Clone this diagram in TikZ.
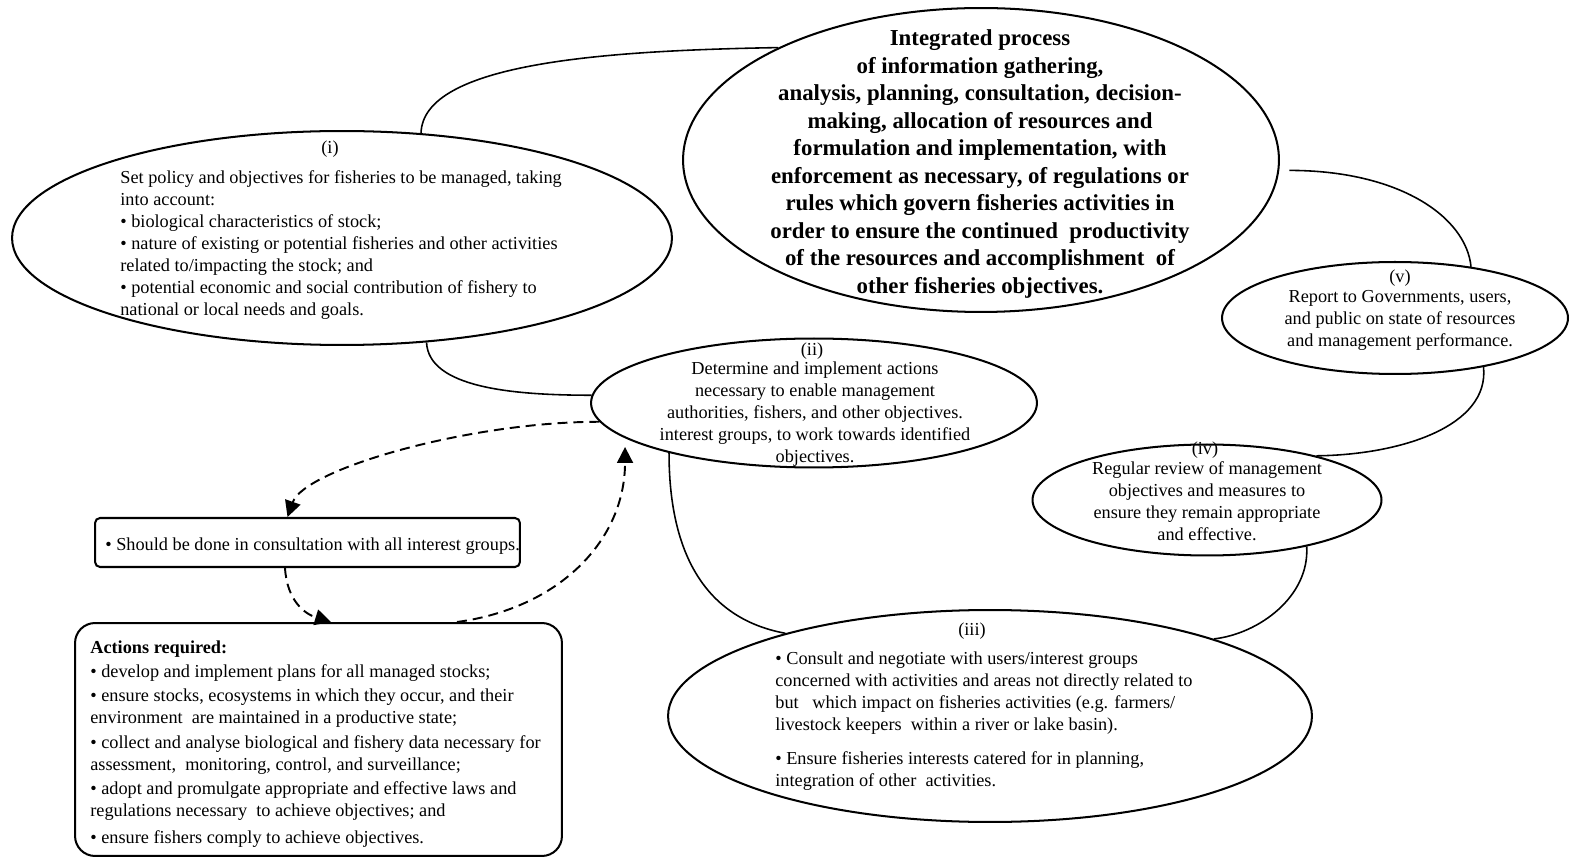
\documentclass[tikz,border=0pt]{standalone}
\usepackage{fontspec}
\setmainfont{Liberation Serif}
\usetikzlibrary{shapes.geometric,arrows.meta}
\newcommand\txtfnt{\fontsize{10.4pt}{12.5pt}\selectfont}
\newcommand\bigfnt{\fontsize{13pt}{15.65pt}\selectfont\bfseries}
\begin{document}
\begin{tikzpicture}[x=0.02cm,y=-0.02cm,
  ell/.style={draw, ellipse, line width=1.15pt, inner sep=0pt},
  box/.style={draw, rectangle, line width=1.15pt, inner sep=0pt},
  link/.style={line width=0.9pt},
  dlink/.style={line width=1.1pt, dash pattern=on 0.2cm off 0.12cm, -{Triangle[length=0.32cm,width=0.32cm]}},
  txt/.style={inner sep=0pt, font=\txtfnt}]
\useasboundingbox (0,0) rectangle (1574,857);

% shapes
\node[ell, minimum width=11.92cm, minimum height=6.08cm] (big) at (981,160) {};
\node[ell, minimum width=13.2cm, minimum height=4.28cm] (e1) at (342,238) {};
\node[ell, minimum width=8.92cm, minimum height=2.58cm] (e2) at (814,403) {};
\node[ell, minimum width=12.88cm, minimum height=4.24cm] (e3) at (990,716) {};
\node[ell, minimum width=6.98cm, minimum height=2.22cm] (e4) at (1207,500) {};
\node[ell, minimum width=6.92cm, minimum height=2.24cm] (e5) at (1395,318) {};
\node[box, rounded corners=0.1cm, minimum width=8.5cm, minimum height=0.98cm] (r1) at (307.5,542.5) {};
\node[box, rounded corners=0.4cm, minimum width=9.74cm, minimum height=4.66cm] (r2) at (318.5,739.5) {};

% texts
\node[txt, align=center, font=\bigfnt] (tbig) at (980,164) {Integrated process\\ of information gathering,\\ analysis, planning, consultation, decision-\\ making, allocation of resources and\\ formulation and implementation, with\\ enforcement as necessary, of regulations or\\ rules which govern fisheries activities in\\ order to ensure the continued\ \ productivity\\ of the resources and accomplishment\ \ of\\ other fisheries objectives.};

\node[txt] (l1) at (330,149) {(i)};
\node[txt, anchor=west, align=left] (t1) at (120,245) {Set policy and objectives for fisheries to be managed, taking\\ into account:\\ • biological characteristics of stock;\\ • nature of existing or potential fisheries and other activities\\ related to/impacting the stock; and\\ • potential economic and social contribution of fishery to\\ national or local needs and goals.};

\node[txt] (l2) at (812,351) {(ii)};
\node[txt, align=center] (t2) at (815,414) {Determine and implement actions\\ necessary to enable management\\ authorities, fishers, and other objectives.\\ interest groups, to work towards identified\\ objectives.};

\node[txt] (l5) at (1400,278) {(v)};
\node[txt, align=center] (t5) at (1400,320.5) {Report to Governments, users,\\ and public on state of resources\\ and management performance.};

\node[txt] (l4) at (1205,450) {(iv)};
\node[txt, align=center] (t4) at (1207,501) {Regular review of management\\ objectives and measures to\\ ensure they remain appropriate\\ and effective.};

\node[txt] (l3) at (972,631) {(iii)};
\node[txt, anchor=west, align=left] (t3) at (775,721) {• Consult and negotiate with users/interest groups\\ concerned with activities and areas not directly related to\\ but\ \ \ which impact on fisheries activities (e.g. farmers/\\ livestock keepers\ \ within a river or lake basin).\\[6.8pt] • Ensure fisheries interests catered for in planning,\\ integration of other\ \ activities.};

\node[txt, anchor=west] (tr1) at (105,546) {• Should be done in consultation with all interest groups.};
\node[txt, anchor=west, align=left] (tr2) at (90,744) {\textbf{Actions required:}\\[1.14pt] • develop and implement plans for all managed stocks;\\[1.14pt] • ensure stocks, ecosystems in which they occur, and their\\ environment\ \ are maintained in a productive state;\\[1.7pt] • collect and analyse biological and fishery data necessary for\\ assessment,\ \ monitoring, control, and surveillance;\\[1.14pt] • adopt and promulgate appropriate and effective laws and\\ regulations necessary\ \ to achieve objectives; and\\[2.85pt] • ensure fishers comply to achieve objectives.};

% solid connectors
\draw[link] (e1.53) .. controls +(2,-70) and +(-175,3) .. (big.151);
\draw[link] (e1.-51) .. controls +(2,45) and +(-80,0) .. (e2.178);
\draw[link] (e2.199) .. controls +(0,120) and +(-65,-12) .. (e3.158);
\draw[link] (e4.-25) .. controls +(3,50) and +(45,-5) .. (e3.19);
\draw[link] (e5.-29) .. controls +(6,59) and +(85,-1) .. (e4.22);
\draw[link] ([xshift=0.2cm]big.-2) .. controls +(110,0) and +(-5,-50) .. (e5.34);

% dashed arrows
\draw[dlink] (e2.185) .. controls +(-130,0) and +(17,-48) .. ([xshift=-0.4cm]r1.north);
\draw[dlink] ([xshift=-0.45cm]r1.south) .. controls +(2,33) and +(-26,-8) .. ([xshift=0.25cm]r2.north);
\draw[dlink] ([xshift=2.77cm]r2.north) .. controls +(103,-14) and +(0,93) .. ([shift={(-3.78cm,-0.88cm)}]e2.center);
\end{tikzpicture}
\end{document}
